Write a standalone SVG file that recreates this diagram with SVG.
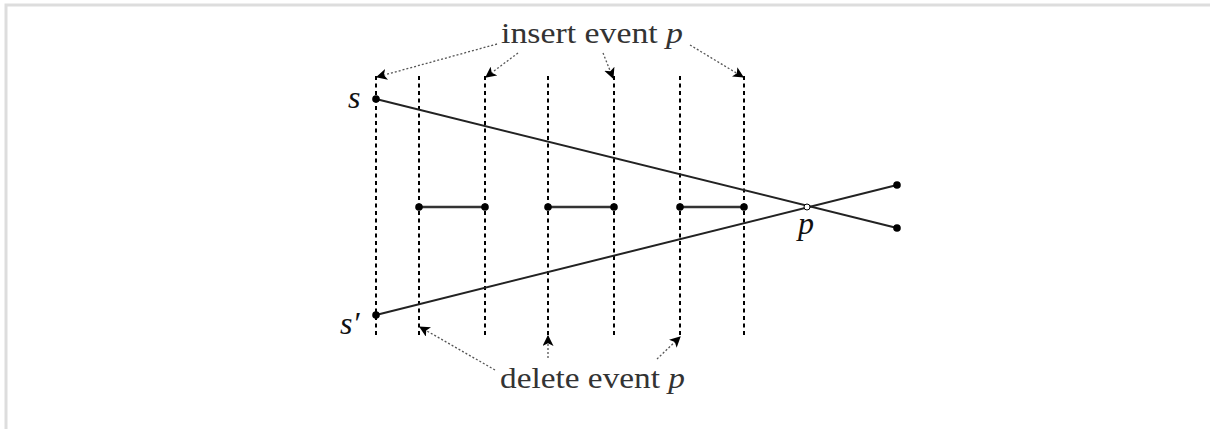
<svg xmlns="http://www.w3.org/2000/svg" width="1210" height="429" viewBox="0 0 1210 429">
<style>
.sweep{stroke:#000;stroke-width:2;stroke-dasharray:4 3.5;fill:none}
.seg{stroke:#222;stroke-width:2;fill:none}
.hseg{stroke:#333;stroke-width:2.6;fill:none}
.ptr{stroke:#555;stroke-width:1.3;stroke-dasharray:2 2;fill:none;marker-end:url(#ah)}
.lbl{font-family:"Liberation Serif",serif;font-size:29px;fill:#333}
.big{font-size:32px;fill:#111}
.it{font-style:italic}
.dot{fill:#000}
</style>
<defs>
<marker id="ah" viewBox="0 0 10 10" refX="9" refY="5" markerWidth="11" markerHeight="11" markerUnits="userSpaceOnUse" orient="auto">
<path d="M0,0 L10,5 L0,10 L2.5,5 Z" fill="#000"/>
</marker>
</defs>
<rect x="0" y="0" width="1210" height="429" fill="#fff"/>
<path d="M6,429 V5 H1210" stroke="#ddd" stroke-width="3" fill="none"/>
<g id="sweeplines">
<line class="sweep" x1="376" y1="76" x2="376" y2="338"/>
<line class="sweep" x1="419" y1="76" x2="419" y2="338"/>
<line class="sweep" x1="485" y1="76" x2="485" y2="338"/>
<line class="sweep" x1="548" y1="76" x2="548" y2="338"/>
<line class="sweep" x1="614" y1="76" x2="614" y2="338"/>
<line class="sweep" x1="680" y1="76" x2="680" y2="338"/>
<line class="sweep" x1="744" y1="76" x2="744" y2="338"/>
</g>
<g id="segments">
<line class="seg" x1="376" y1="99" x2="897" y2="228"/>
<line class="seg" x1="376" y1="315" x2="897" y2="185"/>
<line class="hseg" x1="419" y1="207" x2="485" y2="207"/>
<line class="hseg" x1="548" y1="207" x2="614" y2="207"/>
<line class="hseg" x1="680" y1="207" x2="744" y2="207"/>
</g>
<g id="points">
<circle class="dot" cx="376" cy="99" r="3.8"/>
<circle class="dot" cx="376" cy="315" r="3.8"/>
<circle class="dot" cx="897" cy="185" r="3.8"/>
<circle class="dot" cx="897" cy="228" r="3.8"/>
<circle class="dot" cx="419" cy="207" r="3.8"/>
<circle class="dot" cx="485" cy="207" r="3.8"/>
<circle class="dot" cx="548" cy="207" r="3.8"/>
<circle class="dot" cx="614" cy="207" r="3.8"/>
<circle class="dot" cx="680" cy="207" r="3.8"/>
<circle class="dot" cx="744" cy="207" r="3.8"/>
<circle cx="807" cy="207" r="3" fill="#fff" stroke="#000" stroke-width="1"/>
</g>
<g id="labels">
<text class="lbl big it" x="348" y="108">s</text>
<text class="lbl big it" x="340" y="334">s′</text>
<text class="lbl big it" x="798" y="234">p</text>
</g>
<g id="insert-label">
<text class="lbl" x="501" y="43" textLength="182" lengthAdjust="spacingAndGlyphs">insert event <tspan class="it">p</tspan></text>
</g>
<g id="delete-label">
<text class="lbl" x="500" y="388" textLength="185" lengthAdjust="spacingAndGlyphs">delete event <tspan class="it">p</tspan></text>
</g>
<g id="connectors">
<line class="ptr" x1="497" y1="44" x2="377" y2="77"/>
<line class="ptr" x1="518" y1="53" x2="486" y2="77"/>
<line class="ptr" x1="603" y1="53" x2="613" y2="78"/>
<line class="ptr" x1="690" y1="45" x2="743" y2="77"/>
<line class="ptr" x1="495" y1="370" x2="420" y2="327"/>
<line class="ptr" x1="548" y1="358" x2="548" y2="336"/>
<line class="ptr" x1="657" y1="359" x2="680" y2="337"/>
</g>
</svg>
